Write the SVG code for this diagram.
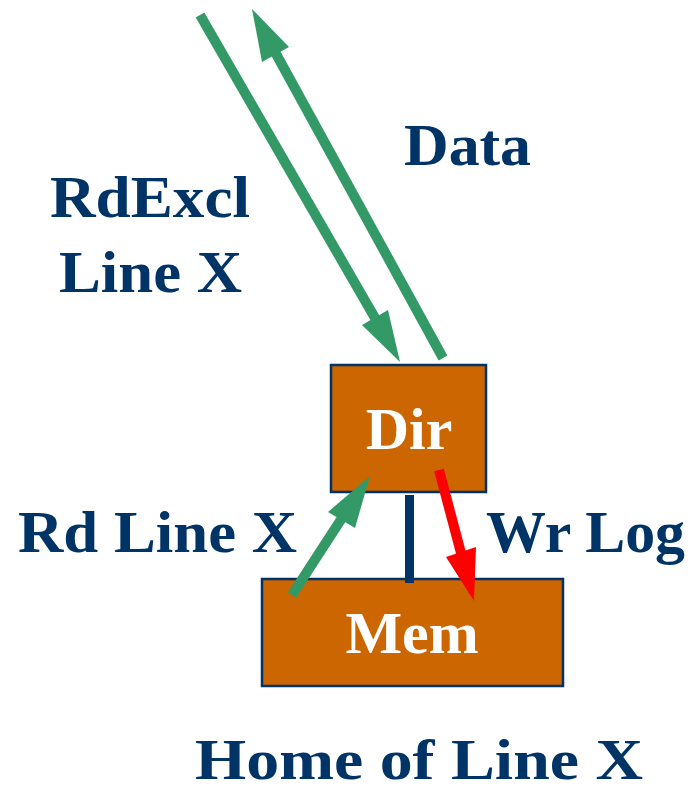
<svg xmlns="http://www.w3.org/2000/svg" width="690" height="791" viewBox="0 0 690 791">
<style>
.lbl{font-family:"Liberation Serif","Times New Roman",serif;font-weight:bold;font-size:60px;fill:#003366}
.nodeTxt{font-family:"Liberation Serif","Times New Roman",serif;font-weight:bold;font-size:60px;fill:#ffffff;text-anchor:middle}
.box{fill:#CC6600;stroke:#003366;stroke-width:2.5}
.g{stroke:#339966;stroke-width:10;fill:none}
.r{stroke:#FF0000;stroke-width:10;fill:none}
</style>
<rect width="690" height="791" fill="#ffffff"/>
<g id="dir">
<rect class="box" x="331" y="365" width="155" height="127"/>
<text class="nodeTxt" x="409" y="449">Dir</text>
</g>
<g id="mem">
<rect class="box" x="262" y="579" width="301" height="107"/>
<text class="nodeTxt" x="412" y="653">Mem</text>
</g>
<g id="connectors">
<line class="g" x1="200" y1="15" x2="375" y2="318"/>
<polygon fill="#339966" points="400,362 362,325 388,310"/>
<line class="g" x1="443" y1="358" x2="275" y2="52"/>
<polygon fill="#339966" points="252,9 262,62 289,47"/>
<line class="g" x1="292" y1="595" x2="342" y2="518"/>
<polygon fill="#339966" points="370,476 328,512 355,528"/>
<line class="r" x1="439" y1="470" x2="461" y2="553"/>
<polygon fill="#FF0000" points="474,601 446,557 476,547"/>
<rect x="405" y="495" width="9" height="88" fill="#003366"/>
</g>
<g id="labels">
<text class="lbl" x="50" y="217" textLength="200" lengthAdjust="spacingAndGlyphs">RdExcl</text>
<text class="lbl" x="59" y="292" textLength="183" lengthAdjust="spacingAndGlyphs">Line X</text>
<text class="lbl" x="404" y="165" textLength="127" lengthAdjust="spacingAndGlyphs">Data</text>
<text class="lbl" x="18" y="552" textLength="279" lengthAdjust="spacingAndGlyphs">Rd Line X</text>
<text class="lbl" x="486" y="552" textLength="199" lengthAdjust="spacingAndGlyphs">Wr Log</text>
<text class="lbl" x="195" y="779" font-size="56" style="font-size:56px" textLength="448" lengthAdjust="spacingAndGlyphs">Home of Line X</text>
</g>
</svg>
